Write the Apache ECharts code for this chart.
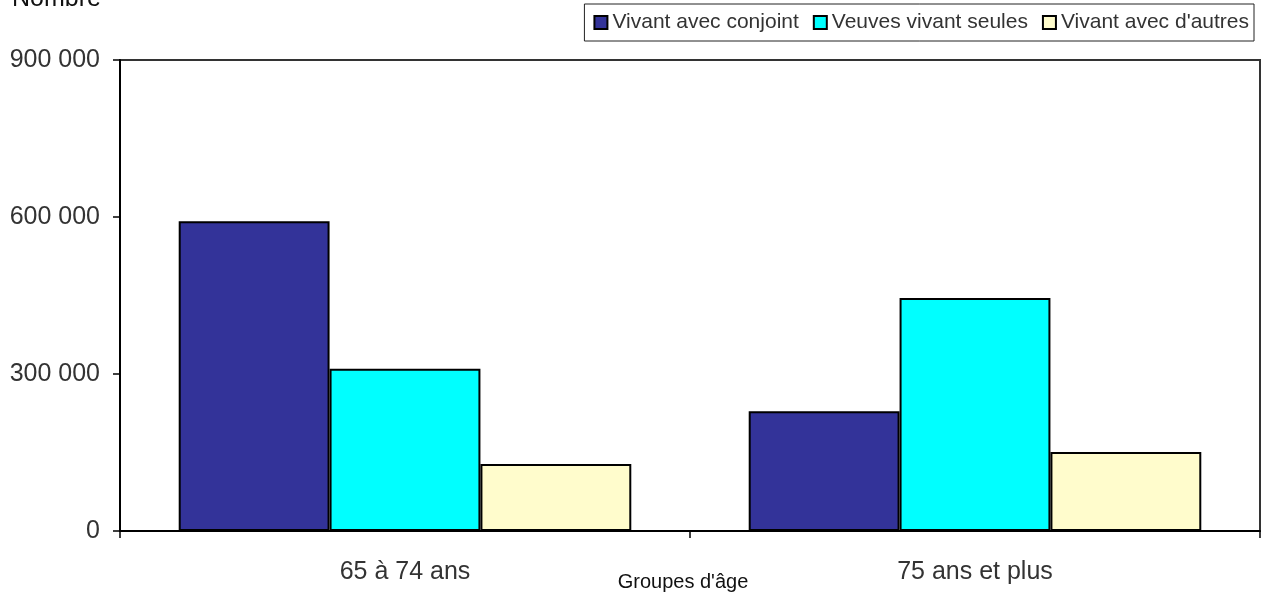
<!DOCTYPE html>
<html>
<head>
<meta charset="utf-8">
<script src="https://cdn.jsdelivr.net/npm/echarts@6/dist/echarts.min.js"></script>
<style>
html,body{margin:0;padding:0;background:#fff;}
#chart{width:1262px;height:599px;}
</style>
</head>
<body>
<div id="chart"></div>
<script>
// Population by age group and living arrangement
const categories = ['65 à 74 ans', '75 ans et plus'];
const seriesNames = ['Vivant avec conjoint', 'Veuves vivant seules', "Vivant avec d'autres"];
const conjoint = [592000, 229000];
const seules = [310000, 445000];
const autres = [128000, 151000];
const yTicks = [0, 300000, 600000, 900000];

const colors = ['#333399', '#00FFFF', '#FFFCCC'];
const fontFamily = '"Liberation Sans", Arial, sans-serif';

function fmt(v) {
  return String(v).replace(/\B(?=(\d{3})+(?!\d))/g, ' ');
}

const chart = echarts.init(document.getElementById('chart'));
const values = [conjoint, seules, autres];

chart.setOption({
  animation: false,
  textStyle: { fontFamily: fontFamily },
  grid: {
    left: 120, right: 2, top: 60, bottom: 68,
    show: true, borderColor: '#333', borderWidth: 2, backgroundColor: 'transparent'
  },
  legend: {
    top: 4, right: 8,
    itemWidth: 13, itemHeight: 13, itemGap: 14,
    icon: 'rect',
    padding: [8, 5, 8, 9],
    borderColor: '#222', borderWidth: 1,
    textStyle: { fontSize: 21, color: '#333', fontFamily: fontFamily },
    data: seriesNames
  },
  xAxis: {
    type: 'category',
    data: categories,
    axisLine: { lineStyle: { color: '#000', width: 2 } },
    axisTick: { show: true, length: 7, lineStyle: { color: '#000', width: 1.5 } },
    axisLabel: { fontSize: 25, color: '#333', margin: 29, fontFamily: fontFamily }
  },
  yAxis: {
    type: 'value',
    min: 0, max: yTicks[yTicks.length - 1], interval: yTicks[1] - yTicks[0],
    splitLine: { show: false },
    axisLine: { show: true, lineStyle: { color: '#000', width: 2 } },
    axisTick: { show: true, length: 7, lineStyle: { color: '#000', width: 1.5 } },
    axisLabel: { fontSize: 25, color: '#333', margin: 20, formatter: fmt, fontFamily: fontFamily }
  },
  series: seriesNames.map((name, i) => ({
    name: name,
    type: 'bar',
    data: values[i],
    barGap: '0%',
    barCategoryGap: '20.6%',
    itemStyle: { color: colors[i], borderColor: '#000', borderWidth: 2 }
  })),
  graphic: [
    {
      type: 'text', x: 12, y: 12,
      style: { text: 'Nombre', fontSize: 25, fill: '#111', fontFamily: fontFamily, verticalAlign: 'bottom' }
    },
    {
      type: 'text', x: 683, y: 582,
      style: { text: "Groupes d'âge", fontSize: 20, fill: '#111', fontFamily: fontFamily, align: 'center', verticalAlign: 'middle' }
    }
  ]
});
</script>
</body>
</html>
